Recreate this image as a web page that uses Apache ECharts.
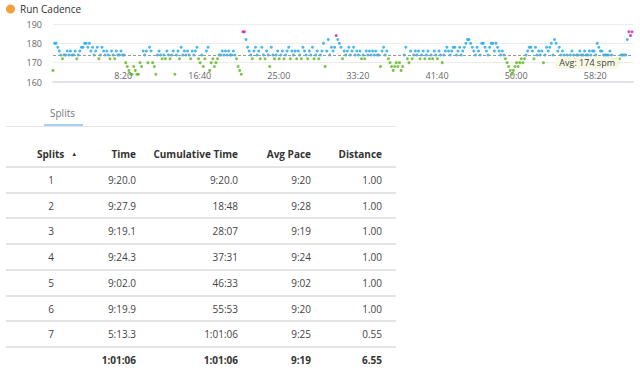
<!DOCTYPE html>
<html><head><meta charset="utf-8">
<script src="https://cdn.jsdelivr.net/npm/echarts@6/dist/echarts.min.js"></script>
<style>
html,body{margin:0;padding:0;background:#fff;width:640px;height:373px;overflow:hidden;font-family:"Open Sans",sans-serif;}
#chart{position:absolute;left:0;top:0;width:640px;height:100px;}
#table{position:absolute;left:0;top:0;width:640px;height:373px;pointer-events:none;}
.c{position:absolute;font-size:10px;line-height:14px;height:14px;color:#444;white-space:nowrap;}
.h{font-weight:bold;color:#333;}
.ln{position:absolute;left:6px;width:390px;height:2px;background:#e4e4e4;}
</style></head>
<body>
<div id="chart"></div>
<div id="table"></div>
<script>
// ---- chart data ----
const seriesName = 'Run Cadence';
const sampleStepSeconds = 10;
const totalSeconds = 3666;
const cadence = [
166,180,180,178,176,174,172,174,174,176,
174,176,174,174,176,172,174,176,178,178,
180,180,178,180,176,178,174,176,178,172,
174,178,176,174,176,174,172,176,174,172,
176,174,174,176,174,174,170,168,166,164,
164,168,166,164,164,170,168,176,174,176,
170,178,176,170,168,164,174,176,174,172,
174,172,176,174,172,174,176,164,174,176,
172,178,174,176,174,176,174,172,176,174,
176,178,172,170,174,168,172,176,178,166,
170,172,168,170,172,174,174,176,174,176,
174,176,174,174,176,174,172,168,166,164,
186,186,182,178,176,174,172,176,178,174,
176,172,178,174,172,176,174,168,178,174,
172,174,176,172,174,176,172,174,176,178,
172,176,174,176,172,176,174,172,178,176,
174,172,176,174,178,172,174,176,172,174,
176,180,168,176,182,174,178,176,178,184,
182,180,178,172,176,174,176,178,174,176,
178,174,176,174,176,172,174,172,176,174,
176,174,176,174,176,174,174,168,176,178,
174,176,172,170,168,166,168,170,168,170,
166,168,174,178,172,170,176,172,174,176,
174,176,172,174,176,172,174,176,172,174,
172,176,174,172,176,174,170,174,176,178,
176,174,176,178,178,174,176,178,174,176,
178,180,182,182,180,178,176,174,178,176,
174,180,180,178,176,174,178,180,180,176,
180,178,176,174,176,174,172,170,168,166,
164,166,168,170,168,170,172,170,172,174,
176,178,178,176,172,178,174,176,174,176,
170,174,178,176,178,180,174,182,180,176,
178,174,176,174,172,174,172,174,176,174,
172,174,174,176,174,174,176,174,174,176,
174,176,176,174,180,178,176,176,174,174,
174,174,176,174,172,170,172,170,172,174,
174,174,174,182,186,184,186
];
const avgCadence = 174;
const avgLabel = 'Avg: 174 spm';
const xTickInterval = 500;
const yMin = 160, yMax = 190, yInterval = 10;

// ---- splits table data ----
const tabLabel = 'Splits';
const headers = ['Splits', 'Time', 'Cumulative Time', 'Avg Pace', 'Distance'];
const splitNo = ['1','2','3','4','5','6','7'];
const splitTime = ['9:20.0','9:27.9','9:19.1','9:24.3','9:02.0','9:19.9','5:13.3'];
const cumTime = ['9:20.0','18:48','28:07','37:31','46:33','55:53','1:01:06'];
const avgPace = ['9:20','9:28','9:19','9:24','9:02','9:20','9:25'];
const distance = ['1.00','1.00','1.00','1.00','1.00','1.00','0.55'];
const totals = ['', '1:01:06', '1:01:06', '9:19', '6.55'];

function fmt(t){ t=Math.round(t); const m=Math.floor(t/60), s=t%60; return m+':'+(s<10?'0':'')+s; }

const chart = echarts.init(document.getElementById('chart'), null, {renderer:'svg'});
chart.setOption({
  animation:false,
  legend:{left:6, top:4, padding:0, icon:'circle', itemWidth:9, itemHeight:9, selectedMode:false,
    textStyle:{fontSize:10, color:'#333', fontFamily:'Open Sans'},
    data:[{name:seriesName, itemStyle:{color:'#f0890f'}}]},
  grid:{left:53, right:7, top:24, height:58},
  xAxis:{type:'value', min:0, max:totalSeconds, interval:xTickInterval,
    axisLine:{show:true, lineStyle:{color:'#dfe3e8', width:2}},
    axisTick:{show:false}, splitLine:{show:false},
    axisLabel:{inside:true, align:'right', margin:2, showMinLabel:false, showMaxLabel:false,
      fontSize:9, color:'#666', fontFamily:'Open Sans', formatter:v=>fmt(v)}},
  yAxis:{type:'value', min:yMin, max:yMax, interval:yInterval,
    axisLine:{show:false}, axisTick:{show:false},
    splitLine:{lineStyle:{color:'#ececec'}},
    axisLabel:{fontSize:9, color:'#666', margin:11, fontFamily:'Open Sans'}},
  visualMap:{show:false, type:'piecewise', dimension:1, seriesIndex:0,
    pieces:[{lt:173, color:'#5cb51e'},{gte:173, lte:183, color:'#1ea6e8'},{gt:183, color:'#c51cb4'}]},
  series:[{
    name:seriesName, type:'scatter', symbol:'circle', symbolSize:3,
    data:cadence.map((v,i)=>[i*sampleStepSeconds, v]),
    markLine:{silent:true, symbol:'none',
      lineStyle:{color:'#999', type:[3,2], width:1},
      label:{show:true, position:'insideEndBottom', distance:[14,2], formatter:avgLabel,
        fontSize:9, lineHeight:10, color:'#444', fontFamily:'Open Sans',
        backgroundColor:'rgba(248,250,226,0.9)', padding:[1,4], borderRadius:2},
      data:[{yAxis:avgCadence}]}
  }]
});

// ---- table ----
const tbl = document.getElementById('table');
function add(html, cls, style){ const d=document.createElement('div'); d.className=cls; d.innerHTML=html; d.setAttribute('style',style); tbl.appendChild(d); return d; }
add(tabLabel,'c','left:50px;top:106px;color:#777;');
add('','', 'position:absolute;left:44px;top:124px;width:39px;height:2px;background:#aad0ee;');
add('','ln','top:126px;height:1px;background:#e6e6e6;');
const rightEdges = [null, 136, 238, 311, 382];
const headerY = 154;
headers.forEach((h,i)=>{
  if(i===0){ add(h+'<span style="font-size:6px;position:relative;top:-2px;margin-left:7px;">&#9650;</span>','c h','left:37px;top:'+(headerY-7)+'px;'); }
  else add(h,'c h','right:'+(640-rightEdges[i])+'px;top:'+(headerY-7)+'px;');
});
const rowStep = 25.7;
for(let k=0;k<8;k++) add('','ln','top:'+(166+rowStep*k)+'px;');
const cols=[splitNo, splitTime, cumTime, avgPace, distance];
for(let r=0;r<splitNo.length;r++){
  const y = 180 + rowStep*r;
  cols.forEach((col,i)=>{
    if(i===0) add(col[r],'c','left:41px;width:20px;text-align:center;top:'+(y-7)+'px;');
    else add(col[r],'c','right:'+(640-rightEdges[i])+'px;top:'+(y-7)+'px;');
  });
}
const ty = 180 + rowStep*7;
totals.forEach((t,i)=>{ if(i>0) add(t,'c h','right:'+(640-rightEdges[i])+'px;top:'+(ty-7)+'px;'); });
</script>
</body></html>
